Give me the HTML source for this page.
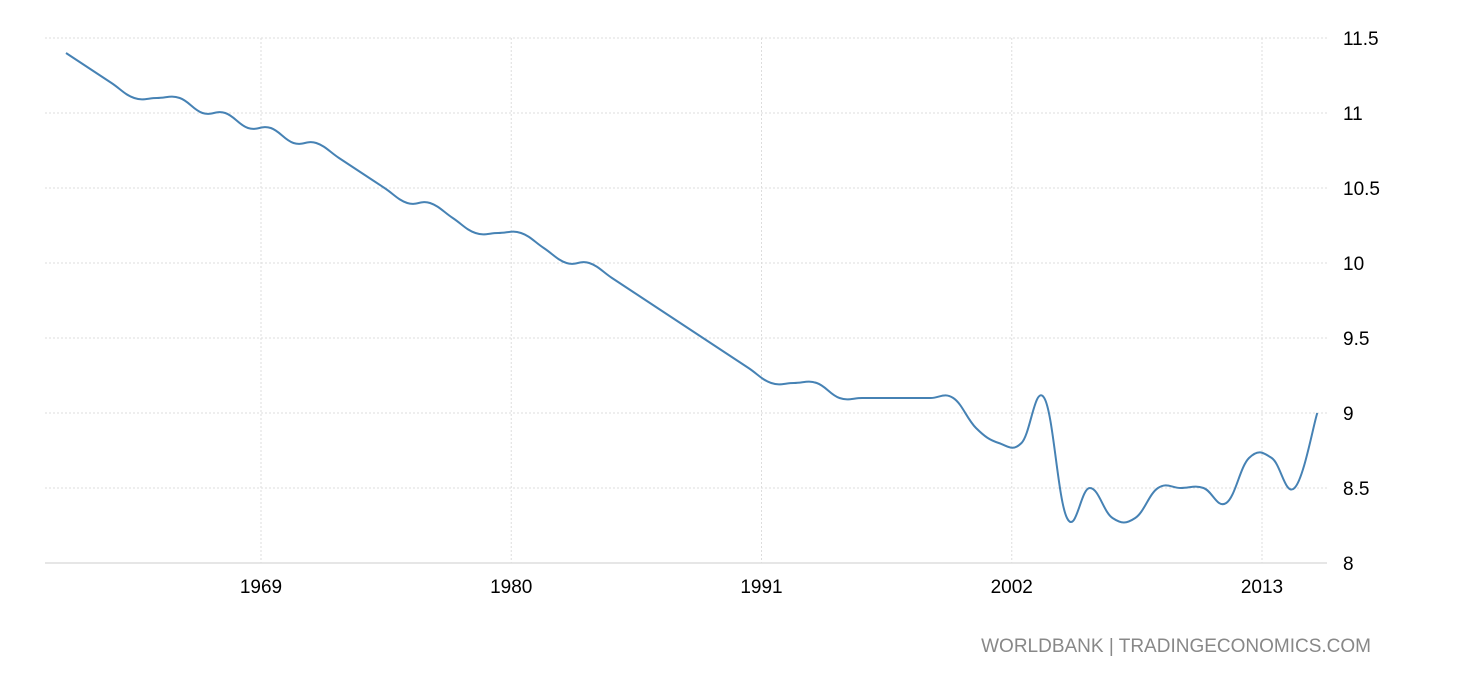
<!DOCTYPE html>
<html><head><meta charset="utf-8"><style>
body{margin:0;background:#fff;width:1460px;height:680px;overflow:hidden;font-family:"Liberation Sans",sans-serif}
</style></head><body>
<svg id="chart" width="1460" height="680" xmlns="http://www.w3.org/2000/svg">
<g id="grid"></g>
<g id="xaxis"></g>
<g id="yaxis"></g>
<path id="line" fill="none" stroke="#4682b4" stroke-width="2"/>
<text x="1371" y="652" text-anchor="end" font-size="19" fill="#888">WORLDBANK | TRADINGECONOMICS.COM</text>
</svg>
<script>
const years=[1960,1961,1962,1963,1964,1965,1966,1967,1968,1969,1970,1971,1972,1973,1974,1975,1976,1977,1978,1979,1980,1981,1982,1983,1984,1985,1986,1987,1988,1989,1990,1991,1992,1993,1994,1995,1996,1997,1998,1999,2000,2001,2002,2003,2004,2005,2006,2007,2008,2009,2010,2011,2012,2013,2014,2015];
const values=[11.4,11.3,11.2,11.1,11.1,11.1,11.0,11.0,10.9,10.9,10.8,10.8,10.7,10.6,10.5,10.4,10.4,10.3,10.2,10.2,10.2,10.1,10.0,10.0,9.9,9.8,9.7,9.6,9.5,9.4,9.3,9.2,9.2,9.2,9.1,9.1,9.1,9.1,9.1,9.1,8.9,8.8,8.8,9.1,8.3,8.5,8.3,8.3,8.5,8.5,8.5,8.4,8.7,8.7,8.5,9.0];
const xTicks=[1969,1980,1991,2002,2013];
const yTicks=[8,8.5,9,9.5,10,10.5,11,11.5];
const yLabels=["8","8.5","9","9.5","10","10.5","11","11.5"];
const NS="http://www.w3.org/2000/svg";
const xs=yr=>66+(yr-1960)*22.75;
const xt=yr=>261+(yr-1969)*22.75;
const ys=v=>563-(v-8)*150;
const grid=document.getElementById('grid'),xa=document.getElementById('xaxis'),ya=document.getElementById('yaxis');
function mk(tag,attrs,parent){const e=document.createElementNS(NS,tag);for(const k in attrs)e.setAttribute(k,attrs[k]);parent.appendChild(e);return e;}
yTicks.forEach((v,i)=>{
  const l=mk('line',{x1:45,x2:1327,y1:ys(v),y2:ys(v),stroke:i==0?'#ccc':'#ddd','stroke-dasharray':i==0?'':'2,2'},grid);
  
  
  const t=mk('text',{x:1343,y:ys(v)+7,'font-size':19,fill:'#000'},ya);
  t.textContent=yLabels[i];
  
  
});
xTicks.forEach(yr=>{
  const l=mk('line',{x1:xt(yr),x2:xt(yr),y1:38,y2:563,stroke:'#ddd','stroke-dasharray':'2,2'},grid);
  
  
  const t=mk('text',{x:xt(yr),y:593,'font-size':19,'text-anchor':'middle',fill:'#000'},xa);
  t.textContent=yr;
  
  
});
const P=years.map((y,i)=>[xs(y),ys(values[i])]);
let d='M'+P[0][0]+','+P[0][1];
for(let i=0;i<P.length-1;i++){
  const p0=P[i-1]||P[i],p1=P[i],p2=P[i+1],p3=P[i+2]||P[i+1],k=0.5/3*1.2;
  const c1=[p1[0]+(p2[0]-p0[0])*k,p1[1]+(p2[1]-p0[1])*k];
  const c2=[p2[0]-(p3[0]-p1[0])*k,p2[1]-(p3[1]-p1[1])*k];
  d+=` C${c1[0]},${c1[1]} ${c2[0]},${c2[1]} ${p2[0]},${p2[1]}`;
}
document.getElementById('line').setAttribute('d',d);
</script>
</body></html>
